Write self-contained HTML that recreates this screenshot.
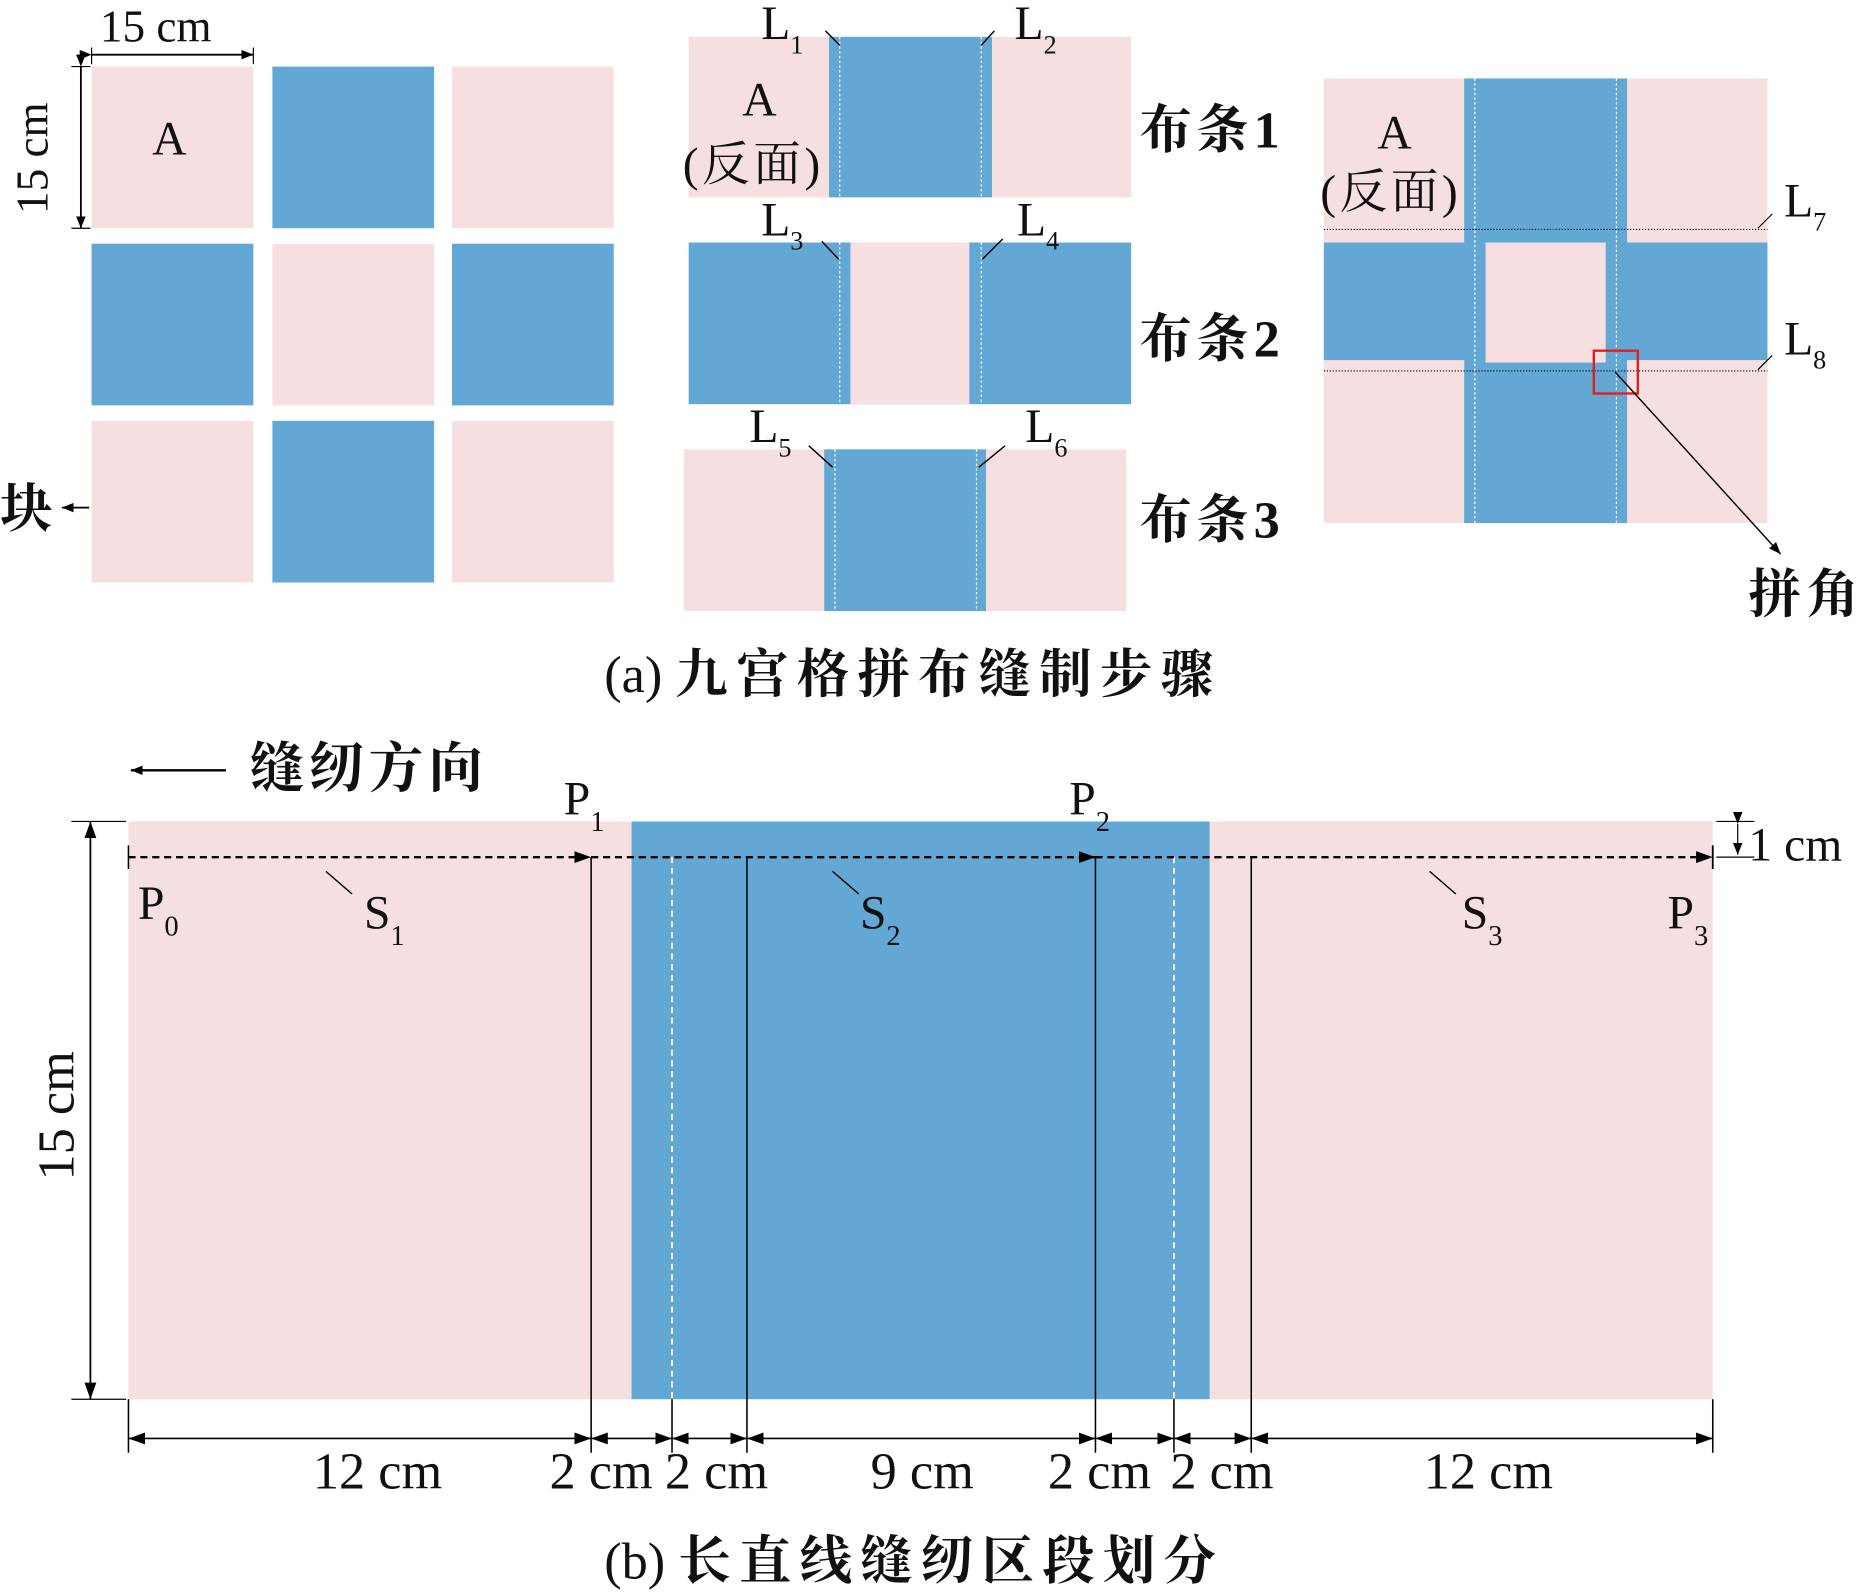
<!DOCTYPE html>
<html><head><meta charset="utf-8"><style>
html,body{margin:0;padding:0;background:#fff;}
svg{display:block;}
text{font-family:"Liberation Serif","Noto Serif CJK SC","Noto Sans CJK SC",serif;fill:#111;}
</style></head><body>
<svg width="1865" height="1593" viewBox="0 0 1568 1340" preserveAspectRatio="none" xmlns="http://www.w3.org/2000/svg">
<defs>
<marker id="ah" markerWidth="10" markerHeight="8" refX="10" refY="4" orient="auto" markerUnits="userSpaceOnUse"><path d="M0,0 L10,4 L0,8 z" fill="#000"/></marker>
<marker id="as" markerWidth="14" markerHeight="10" refX="14" refY="5" orient="auto-start-reverse" markerUnits="userSpaceOnUse"><path d="M0,0 L14,5 L0,10 z" fill="#000"/></marker>
</defs>
<g>
<rect x="77" y="56" width="136" height="136" fill="#f6dfe1"/>
<rect x="229" y="56" width="136" height="136" fill="#63a8d4"/>
<rect x="380" y="56" width="136" height="136" fill="#f6dfe1"/>
<rect x="77" y="205" width="136" height="136" fill="#63a8d4"/>
<rect x="229" y="205" width="136" height="136" fill="#f6dfe1"/>
<rect x="380" y="205" width="136" height="136" fill="#63a8d4"/>
<rect x="77" y="354" width="136" height="136" fill="#f6dfe1"/>
<rect x="229" y="354" width="136" height="136" fill="#63a8d4"/>
<rect x="380" y="354" width="136" height="136" fill="#f6dfe1"/>
<text x="128" y="130" font-size="40">A</text>
<line x1="77" y1="46" x2="213" y2="46" stroke="#000" stroke-width="1.5" marker-start="url(#ah)" marker-end="url(#ah)"/>
<line x1="77" y1="40" x2="77" y2="54" stroke="#000"/><line x1="213" y1="40" x2="213" y2="54" stroke="#000"/>
<text x="84" y="35" font-size="38">15 cm</text>
<line x1="68" y1="56" x2="68" y2="192" stroke="#000" stroke-width="1.5" marker-start="url(#ah)" marker-end="url(#ah)"/>
<line x1="60" y1="56" x2="76" y2="56" stroke="#000"/><line x1="60" y1="192" x2="76" y2="192" stroke="#000"/>
<text transform="translate(40,180) rotate(-90)" font-size="38">15 cm</text>
<text x="0" y="443" font-size="44" font-weight="bold">块</text>
<line x1="75" y1="427" x2="52" y2="427" stroke="#000" stroke-width="1.5" marker-end="url(#ah)"/>

<rect x="579" y="31" width="372" height="135" fill="#f6dfe1"/>
<rect x="697" y="31" width="137" height="135" fill="#63a8d4"/>
<line x1="706" y1="31" x2="706" y2="166" stroke="#fff" stroke-dasharray="2,2"/>
<line x1="825" y1="31" x2="825" y2="166" stroke="#fff" stroke-dasharray="2,2"/>
<rect x="579" y="204" width="372" height="136" fill="#63a8d4"/>
<rect x="715" y="204" width="100" height="136" fill="#f6dfe1"/>
<line x1="706" y1="204" x2="706" y2="340" stroke="#fff" stroke-dasharray="2,2"/>
<line x1="825" y1="204" x2="825" y2="340" stroke="#fff" stroke-dasharray="2,2"/>
<rect x="575" y="378" width="372" height="136" fill="#f6dfe1"/>
<rect x="693" y="378" width="136" height="136" fill="#63a8d4"/>
<line x1="702" y1="378" x2="702" y2="514" stroke="#fff" stroke-dasharray="2,2"/>
<line x1="821" y1="378" x2="821" y2="514" stroke="#fff" stroke-dasharray="2,2"/>
<text x="624" y="97" font-size="40">A</text>
<text x="574" y="152" font-size="40" letter-spacing="3">(反面)</text>
<g font-size="40">
<text x="640" y="33">L<tspan font-size="22" dy="12">1</tspan></text>
<text x="853" y="33">L<tspan font-size="22" dy="12">2</tspan></text>
<text x="640" y="198">L<tspan font-size="22" dy="12">3</tspan></text>
<text x="855" y="198">L<tspan font-size="22" dy="12">4</tspan></text>
<text x="630" y="372">L<tspan font-size="22" dy="12">5</tspan></text>
<text x="862" y="372">L<tspan font-size="22" dy="12">6</tspan></text>
</g>
<g stroke="#000" stroke-width="1.2">
<line x1="694" y1="26" x2="706" y2="38"/><line x1="836" y1="26" x2="825" y2="38"/>
<line x1="691" y1="203" x2="705" y2="218"/><line x1="843" y1="201" x2="826" y2="218"/>
<line x1="680" y1="375" x2="700" y2="393"/><line x1="845" y1="375" x2="823" y2="393"/>
</g>
<g font-size="44" font-weight="bold" letter-spacing="4">
<text x="958" y="124">布条1</text>
<text x="958" y="300">布条2</text>
<text x="958" y="452">布条3</text>
</g>

<rect x="1113" y="66" width="373" height="374" fill="#f6dfe1"/>
<rect x="1231" y="66" width="137" height="374" fill="#63a8d4"/>
<rect x="1113" y="204" width="373" height="99" fill="#63a8d4"/>
<rect x="1249" y="204" width="101" height="98" fill="#f6dfe1"/>
<rect x="1113" y="303" width="118" height="9" fill="#f6dfe1"/>
<rect x="1368" y="303" width="118" height="9" fill="#f6dfe1"/>
<rect x="1249" y="302" width="101" height="3" fill="#f6dfe1"/>
<line x1="1240" y1="66" x2="1240" y2="440" stroke="#fff" stroke-dasharray="2,2"/>
<line x1="1359" y1="66" x2="1359" y2="440" stroke="#fff" stroke-dasharray="2,2"/>
<line x1="1113" y1="193" x2="1486" y2="193" stroke="#000" stroke-dasharray="1,1.5" stroke-width="1"/>
<line x1="1113" y1="312" x2="1486" y2="312" stroke="#000" stroke-dasharray="1,1.5" stroke-width="1"/>
<rect x="1340" y="295" width="37" height="36" fill="none" stroke="#e02020" stroke-width="2"/>
<line x1="1358" y1="313" x2="1497" y2="466" stroke="#000" stroke-width="1.2" marker-end="url(#ah)"/>
<text x="1158" y="125" font-size="40">A</text>
<text x="1110" y="175" font-size="40" letter-spacing="3">(反面)</text>
<text x="1500" y="182" font-size="40">L<tspan font-size="22" dy="12">7</tspan></text>
<text x="1500" y="298" font-size="40">L<tspan font-size="22" dy="12">8</tspan></text>
<line x1="1478" y1="192" x2="1490" y2="180" stroke="#000"/>
<line x1="1478" y1="311" x2="1490" y2="299" stroke="#000"/>
<text x="1470" y="515" font-size="44" font-weight="bold" letter-spacing="5">拼角</text>
<text x="508" y="582" font-size="44">(a) <tspan font-weight="bold" letter-spacing="7">九宫格拼布缝制步骤</tspan></text>

<line x1="190" y1="648" x2="110" y2="648" stroke="#000" stroke-width="2" marker-end="url(#ah)"/>
<text x="210" y="662" font-size="46" font-weight="bold" letter-spacing="4">缝纫方向</text>
<rect x="108" y="691" width="1332" height="486" fill="#f6dfe1"/>
<rect x="531" y="691" width="486" height="486" fill="#63a8d4"/>
<line x1="565" y1="721" x2="565" y2="1177" stroke="#fff" stroke-width="1.5" stroke-dasharray="5,4"/>
<line x1="987" y1="721" x2="987" y2="1177" stroke="#fff" stroke-width="1.5" stroke-dasharray="5,4"/>
<g stroke="#000" stroke-width="1.3">
<line x1="497" y1="721" x2="497" y2="1222"/>
<line x1="628" y1="721" x2="628" y2="1222"/>
<line x1="921" y1="721" x2="921" y2="1222"/>
<line x1="1052" y1="721" x2="1052" y2="1222"/>
<line x1="565" y1="1177" x2="565" y2="1222"/>
<line x1="987" y1="1177" x2="987" y2="1222"/>
<line x1="108" y1="1177" x2="108" y2="1222"/>
<line x1="1440" y1="1177" x2="1440" y2="1222"/>
<line x1="108" y1="711" x2="108" y2="731"/>
</g>
<g stroke="#000" stroke-width="2" stroke-dasharray="6,4">
<line x1="108" y1="721" x2="497" y2="721" marker-end="url(#as)"/>
<line x1="497" y1="721" x2="921" y2="721" marker-end="url(#as)"/>
<line x1="921" y1="721" x2="1440" y2="721" marker-end="url(#as)"/>
</g>
<line x1="1440" y1="711" x2="1440" y2="731" stroke="#000" stroke-width="1.5"/>
<g stroke="#000" stroke-width="1.2">
<line x1="274" y1="733" x2="296" y2="752"/>
<line x1="700" y1="733" x2="722" y2="752"/>
<line x1="1202" y1="733" x2="1224" y2="752"/>
</g>
<g font-size="40">
<text x="116" y="773">P<tspan font-size="24" dy="14">0</tspan></text>
<text x="306" y="781">S<tspan font-size="24" dy="14">1</tspan></text>
<text x="474" y="685">P<tspan font-size="24" dy="14">1</tspan></text>
<text x="723" y="781">S<tspan font-size="24" dy="14">2</tspan></text>
<text x="899" y="685">P<tspan font-size="24" dy="14">2</tspan></text>
<text x="1229" y="781">S<tspan font-size="24" dy="14">3</tspan></text>
<text x="1402" y="781">P<tspan font-size="24" dy="14">3</tspan></text>
<text x="1470" y="724">1 cm</text>
</g>
<line x1="1443" y1="691" x2="1475" y2="691" stroke="#000"/>
<line x1="1443" y1="721" x2="1475" y2="721" stroke="#000"/>
<line x1="1461" y1="693" x2="1461" y2="719" stroke="#000" marker-start="url(#ah)" marker-end="url(#ah)"/>
<line x1="60" y1="691" x2="106" y2="691" stroke="#000"/>
<line x1="60" y1="1177" x2="106" y2="1177" stroke="#000"/>
<line x1="76" y1="691" x2="76" y2="1177" stroke="#000" stroke-width="1.5" marker-start="url(#as)" marker-end="url(#as)"/>
<text transform="translate(62,993) rotate(-90)" font-size="44">15 cm</text>
<g stroke="#000" stroke-width="1.3">
<line x1="108" y1="1210" x2="497" y2="1210" marker-start="url(#as)" marker-end="url(#as)"/>
<line x1="497" y1="1210" x2="565" y2="1210" marker-start="url(#as)" marker-end="url(#as)"/>
<line x1="565" y1="1210" x2="628" y2="1210" marker-start="url(#as)" marker-end="url(#as)"/>
<line x1="628" y1="1210" x2="921" y2="1210" marker-start="url(#as)" marker-end="url(#as)"/>
<line x1="921" y1="1210" x2="987" y2="1210" marker-start="url(#as)" marker-end="url(#as)"/>
<line x1="987" y1="1210" x2="1052" y2="1210" marker-start="url(#as)" marker-end="url(#as)"/>
<line x1="1052" y1="1210" x2="1440" y2="1210" marker-start="url(#as)" marker-end="url(#as)"/>
</g>
<g font-size="44">
<text x="263" y="1252">12 cm</text>
<text x="462" y="1252">2 cm</text>
<text x="559" y="1252">2 cm</text>
<text x="732" y="1252">9 cm</text>
<text x="881" y="1252">2 cm</text>
<text x="984" y="1252">2 cm</text>
<text x="1197" y="1252">12 cm</text>
</g>
<text x="508" y="1328" font-size="44">(b) <tspan font-weight="bold" letter-spacing="7">长直线缝纫区段划分</tspan></text>
</g>
</svg>
</body></html>
